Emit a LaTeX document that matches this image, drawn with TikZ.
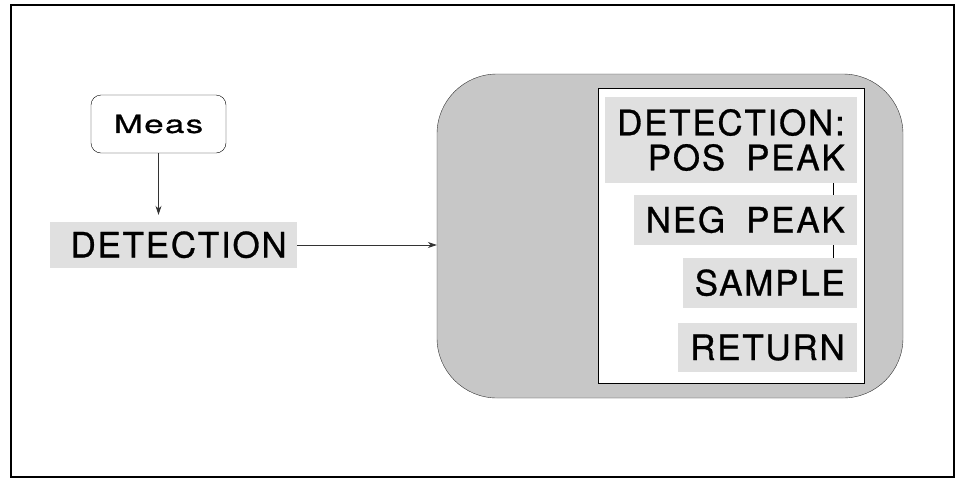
\documentclass[tikz,border=0pt]{standalone}
\usepackage{fontspec}
\usepackage{tikz}
\usetikzlibrary{arrows.meta,positioning,calc}
\newfontfamily\hpfont{TeX Gyre Heros}[LetterSpace=5, FakeBold=0.8]
\newfontfamily\hpwide{TeX Gyre Heros}[LetterSpace=5, FakeStretch=1.4, FakeBold=0.8]
\protected\def\hpbig{\hpfont\fontsize{35}{35}\selectfont\spaceskip=0.6em\relax}
\protected\def\hpsmall{\hpwide\fontsize{25}{25}\selectfont}
\definecolor{panelgray}{gray}{0.78}
\definecolor{softgray}{gray}{0.88}

\begin{document}
\begin{tikzpicture}[x=1pt, y=-1pt,
    softkey/.style={rectangle, draw=black, rounded corners=10pt, fill=white,
                    font=\hpsmall, minimum width=135pt, minimum height=58pt},
    hilite/.style={rectangle, fill=softgray, font=\hpbig, anchor=east, inner xsep=12pt},
    hiline/.style={hilite, text height=25pt, text depth=0pt, minimum height=50pt},
    panel/.style={rectangle, draw=black!80, fill=panelgray, rounded corners=60pt,
                  minimum width=466pt, minimum height=324pt},
    menu/.style={rectangle, draw=black, fill=white, line width=0.8pt,
                 minimum width=266pt, minimum height=295pt},
    arr/.style={-{Stealth[length=9pt,width=6pt]}, line width=0.8pt, black!80}
]
    \useasboundingbox (0,0) rectangle (956,483);
    \draw[line width=1.6pt] (11,5) rectangle (954,477);

    % left side
    \node[softkey] (meas) at (158.5,124) {Meas};
    \node[hiline, text width=227pt, align=right, inner xsep=10pt,
          minimum height=46pt] (det) at (297,245) {DETECTION};
    \draw[arr, shorten >=7pt] (meas.south) -- (meas.south |- det.north);

    % menu panel
    \node[panel] (pnl) at (670,236) {};
    \node[menu] (mnu) at (731,235.5) {};
    \draw[arr] (det.east) -- (det.east -| pnl.west);

    \node[hilite, align=right, minimum height=86pt,
          minimum width=251pt] (head) at (857,140) {DETECTION:\\POS PEAK};
    \node[hiline] (neg) at (857,220) {NEG PEAK};
    \node[hiline] (smp) at (857,283) {SAMPLE};
    \node[hiline, minimum height=49pt] (ret) at (857,347.5) {RETURN};

    \draw[line width=0.6pt] ([xshift=-24pt]head.south east) -- ([xshift=-24pt]neg.north east);
    \draw[line width=0.6pt] ([xshift=-24pt]neg.south east) -- ([xshift=-24pt]smp.north east);
\end{tikzpicture}
\end{document}
